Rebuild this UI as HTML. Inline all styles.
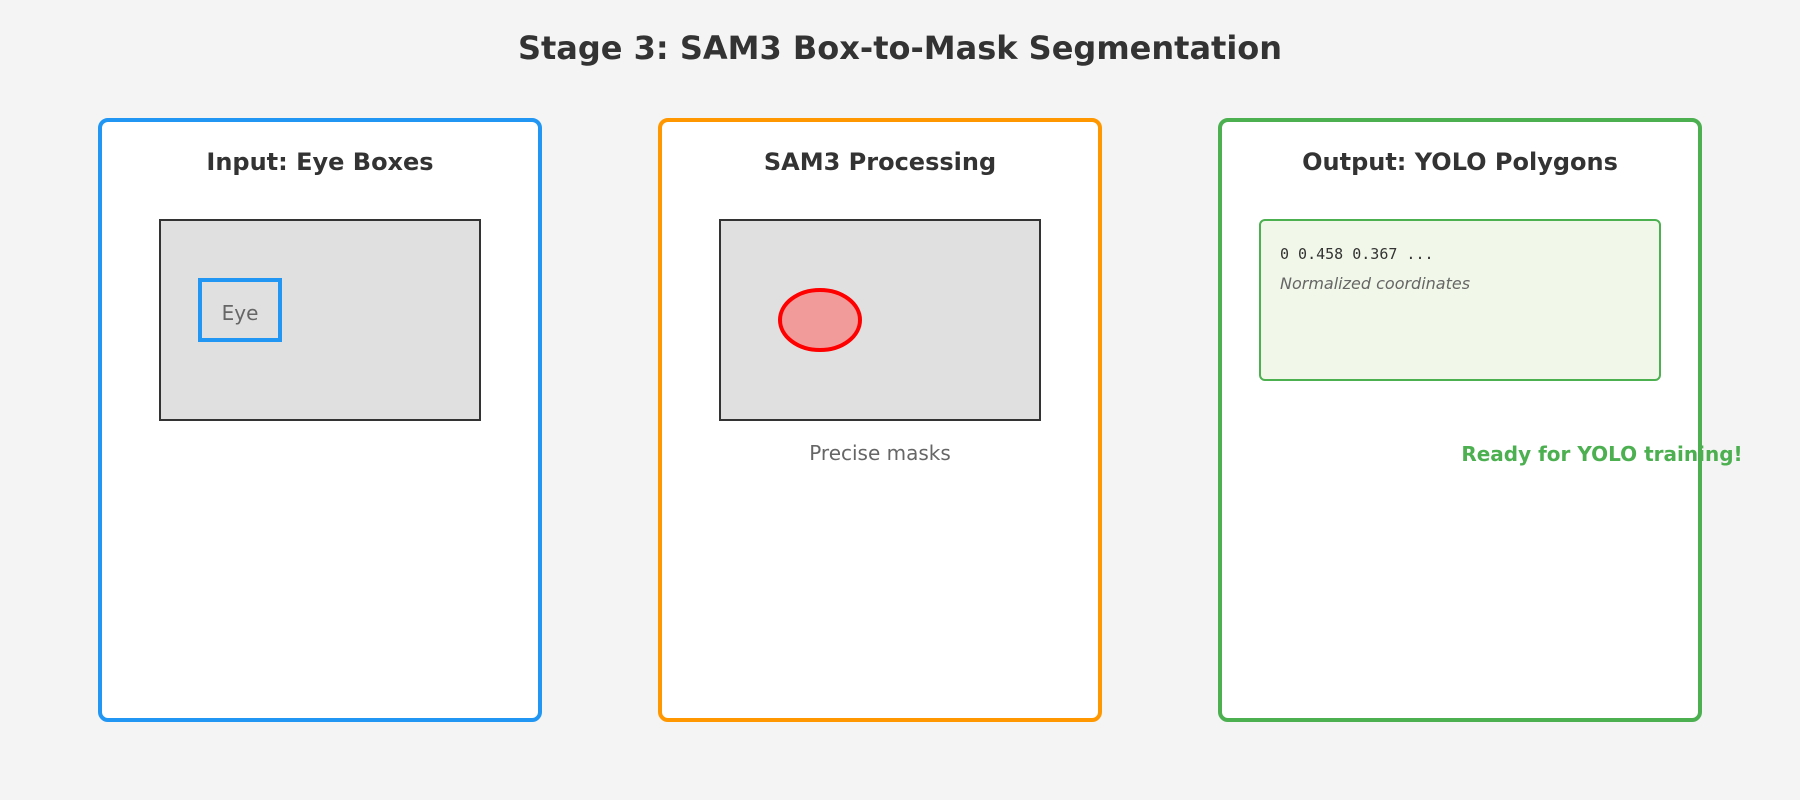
<!DOCTYPE html>
<html><head><meta charset="utf-8"><style>html,body{margin:0;padding:0;background:#f4f4f4}svg{display:block}</style></head>
<body>
<svg width="1800" height="800" viewBox="0 0 1800 800" xmlns="http://www.w3.org/2000/svg" font-family="'DejaVu Sans','Liberation Sans',sans-serif">
<rect width="1800" height="800" fill="#f4f4f4"/>
<text x="900" y="59" text-anchor="middle" font-size="32" font-weight="bold" fill="#333">Stage 3: SAM3 Box-to-Mask Segmentation</text>

<rect x="100" y="120" width="440" height="600" rx="8" fill="#fff" stroke="#2196f3" stroke-width="4"/>
<text x="320" y="170" text-anchor="middle" font-size="24" font-weight="bold" fill="#333">Input: Eye Boxes</text>
<rect x="160" y="220" width="320" height="200" fill="#e0e0e0" stroke="#333" stroke-width="2"/>
<rect x="200" y="280" width="80" height="60" fill="none" stroke="#2196f3" stroke-width="4"/>
<text x="240" y="320" text-anchor="middle" font-size="20" fill="#666">Eye</text>

<rect x="660" y="120" width="440" height="600" rx="8" fill="#fff" stroke="#ff9800" stroke-width="4"/>
<text x="880" y="170" text-anchor="middle" font-size="24" font-weight="bold" fill="#333">SAM3 Processing</text>
<rect x="720" y="220" width="320" height="200" fill="#e0e0e0" stroke="#333" stroke-width="2"/>
<ellipse cx="820" cy="320" rx="40" ry="30" fill="#f29b9b" stroke="#ff0000" stroke-width="4"/>
<text x="880" y="460" text-anchor="middle" font-size="20" fill="#666">Precise masks</text>

<rect x="1220" y="120" width="480" height="600" rx="8" fill="#fff" stroke="#4caf50" stroke-width="4"/>
<text x="1460" y="170" text-anchor="middle" font-size="24" font-weight="bold" fill="#333">Output: YOLO Polygons</text>
<rect x="1260" y="220" width="400" height="160" rx="5" fill="#f1f8e9" stroke="#4caf50" stroke-width="2"/>
<text x="1280" y="259" font-family="'DejaVu Sans Mono','Liberation Mono',monospace" font-size="15" fill="#333">0 0.458 0.367 ...</text>
<text x="1280" y="289" font-size="16" font-style="italic" fill="#666">Normalized coordinates</text>
<text x="1602" y="461" text-anchor="middle" font-size="20" font-weight="bold" fill="#4caf50">Ready for YOLO training!</text>
</svg>
</body></html>
